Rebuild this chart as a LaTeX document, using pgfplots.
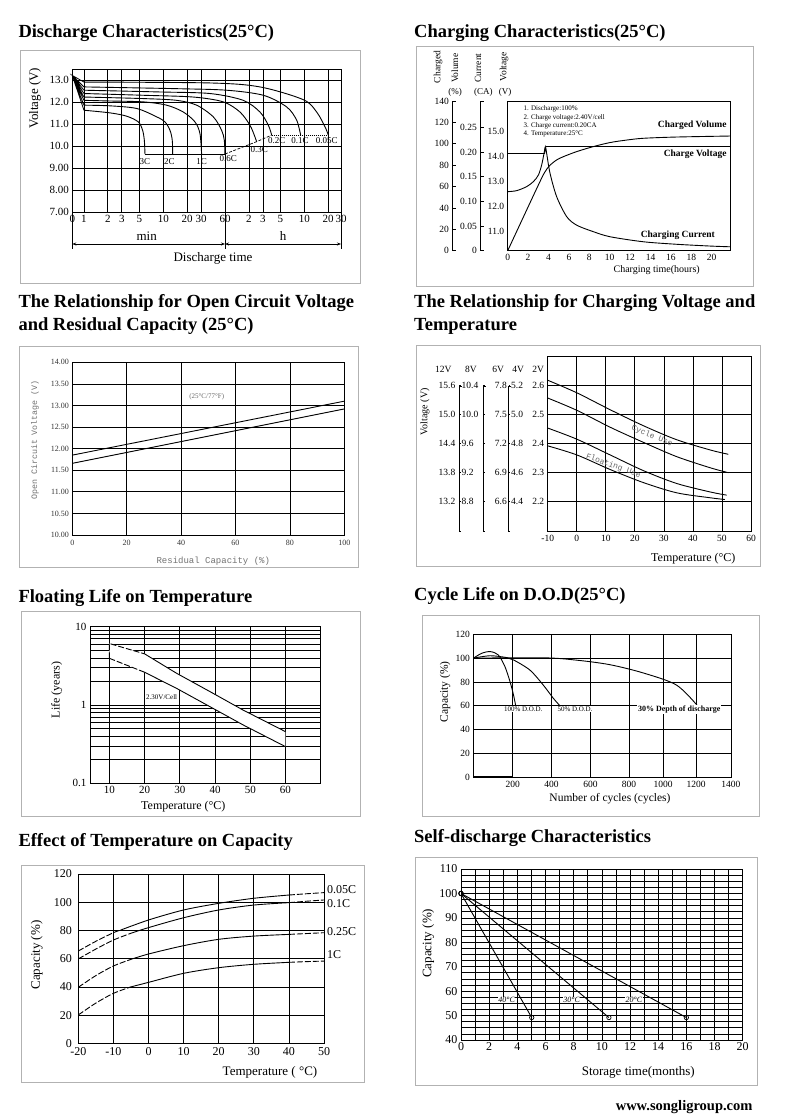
\documentclass[border=0pt]{standalone}
\usepackage{fontspec}
\setmainfont{Liberation Serif}
\newfontfamily\monof{Liberation Mono}
\usepackage{pgfplots}
\pgfplotsset{compat=1.18}
\usetikzlibrary{arrows.meta}
\newcommand{\fs}[1]{\fontsize{#1}{#1}\selectfont}
\pgfplotsset{
  base/.style={scale only axis, anchor=south west,
    axis line style={black,line width=0.9pt},
    major grid style={black,line width=0.7pt},
    minor grid style={black,line width=0.7pt},
    major tick length=0pt, minor tick length=0pt,
    /pgf/number format/assume math mode=true,
    every x tick label/.append style={text height=1.45ex, text depth=0.2ex},
    cycle list={{black,solid,line width=0.9pt,mark=none}},
    every axis plot/.append style={black,line width=0.9pt}},
  dsh/.style={dash pattern=on 6pt off 2pt},
}
\begin{document}
\begin{tikzpicture}
\path[use as bounding box, fill=white] (0,0) rectangle (800pt,-1120pt);
% ---------- frames
\begin{scope}[x=1pt,y=-1pt]
\draw[gray!60, line width=0.9pt] (20,50) rectangle (360,283);
\draw[gray!60, line width=0.9pt] (416,46) rectangle (753,286);
\draw[gray!60, line width=0.9pt] (19.3,346) rectangle (358,567);
\draw[gray!60, line width=0.9pt] (416,345) rectangle (760,566);
\draw[gray!60, line width=0.9pt] (21.7,611.7) rectangle (360.7,816);
\draw[gray!60, line width=0.9pt] (422.7,615) rectangle (759.3,816);
\draw[gray!60, line width=0.9pt] (21.7,865) rectangle (364,1082.7);
\draw[gray!60, line width=0.9pt] (415,857.7) rectangle (757.7,1085);
\end{scope}

% ================= Panel 1: Discharge
\begin{axis}[base, at={(72.3pt,-212.3pt)}, width=268.7pt, height=143pt,
  xmin=-0.147, xmax=3.24, ymin=7, ymax=13.5,
  xtick={-0.147,0,0.301,0.477,0.699,1,1.301,1.477,1.778,2.079,2.255,2.477,2.778,3.079,3.24},
  xticklabels={0,1,2,3,5,10,20,30,60,2,3,5,10,20,30},
  ytick={7,8,9,10,11,12,13}, yticklabels={7.00,8.00,9.00,10.0,11.0,12.0,13.0},
  tick label style={font=\fs{11}}, grid=major, clip=false]
\addplot[line width=0.8pt] coordinates {(-0.147,13.22)(0,11.64)(-0.147,13.22)(0,11.87)(-0.147,13.22)(0,12.09)(-0.147,13.22)(0,12.24)(-0.147,13.22)(0,12.40)(-0.147,13.22)(0,12.55)(-0.147,13.22)(0,12.70)(-0.147,13.22)(0,12.92)};
\addplot[smooth] coordinates {(0,11.64)(0.328,11.52)(0.538,11.37)(0.685,11.11)(0.739,10.73)(0.761,10.28)(0.769,9.65)};
\addplot[smooth] coordinates {(0,11.87)(0.328,11.84)(0.664,11.72)(0.916,11.34)(1.021,11.11)(1.084,10.73)(1.113,10.28)(1.118,9.65)};
\addplot[smooth] coordinates {(0,12.09)(0.328,12.06)(0.748,12.02)(1.042,11.87)(1.252,11.56)(1.399,11.11)(1.462,10.58)(1.483,9.65)};
\addplot[smooth] coordinates {(0,12.24)(0.748,12.17)(1.168,12.09)(1.420,11.87)(1.630,11.34)(1.735,10.73)(1.769,10.28)(1.777,9.65)};
\addplot[smooth] coordinates {(0,12.40)(0.748,12.32)(1.378,12.24)(1.756,12.02)(1.966,11.56)(2.092,10.96)(2.155,10.43)(2.176,10.21)};
\addplot[smooth] coordinates {(0,12.55)(0.958,12.47)(1.588,12.40)(2.008,12.09)(2.218,11.56)(2.324,10.96)(2.366,10.51)};
\addplot[smooth] coordinates {(0,12.70)(1.168,12.62)(1.798,12.55)(2.261,12.32)(2.555,11.79)(2.681,11.19)(2.731,10.51)};
\addplot[smooth] coordinates {(0,12.92)(1.588,12.88)(2.218,12.70)(2.765,12.12)(2.933,11.56)(3.038,10.89)(3.080,10.51)};
\addplot[black] coordinates {(0.769,9.65)(1.777,9.65)};
\addplot[line width=0.7pt, dash pattern=on 3pt off 1.5pt] coordinates {(1.777,9.65)(2.176,10.21)(2.366,10.51)};
\addplot[line width=0.7pt, dash pattern=on 1pt off 1pt] coordinates {(2.366,10.51)(3.080,10.51)};
\end{axis}

% ================= Panel 2: Charging
\begin{axis}[base, at={(507.7pt,-250.7pt)}, width=223pt, height=149.7pt,
  xmin=0, xmax=21.86, ymin=10.245, ymax=16.19,
  xtick={0,2,...,20}, ytick={11,12,13,14,15}, yticklabels={11.0,12.0,13.0,14.0,15.0},
  xticklabels={0,2,4,6,8,10,12,14,16,18,20},
  tick label style={font=\fs{9.5}}]
\addplot[smooth] coordinates {(0,12.59)(0.88,12.63)(1.86,12.79)(2.52,12.99)(3.01,13.25)(3.33,13.65)(3.56,14.11)(3.66,14.35)(3.72,14.38)};
\addplot[black] coordinates {(3.72,14.38)(21.86,14.38)};
\addplot[black] coordinates {(0,14.09)(3.6,14.09)};
\addplot[smooth] coordinates {(3.6,14.09)(3.68,14.25)(3.72,14.36)(3.82,14.11)(4.15,13.32)(4.8,12.39)(5.78,11.6)(6.76,11.26)(8.4,11.0)(10.03,10.8)(13.3,10.6)(16.57,10.5)(19.84,10.43)(21.86,10.4)};
\addplot[smooth] coordinates {(0,10.245)(1.5,11.55)(3.0,12.85)(3.6,13.34)(4.1,13.62)(4.8,13.85)(5.46,13.98)(6.76,14.18)(8.4,14.38)(10.03,14.54)(11.67,14.64)(13.3,14.71)(16.57,14.76)(21.86,14.80)};
\end{axis}

% ================= Panel 3: OCV
\begin{axis}[base, at={(72.3pt,-535pt)}, width=272pt, height=172.7pt,
  xmin=0, xmax=100, ymin=10, ymax=14,
  xtick={0,20,...,100}, xticklabels={0,20,40,60,80,100},
  ytick={10,10.5,...,14}, yticklabels={10.00,10.50,11.00,11.50,12.00,12.50,13.00,13.50,14.00},
  tick label style={font=\fs{8}, text=black!80}, grid=major]
\addplot[black] coordinates {(0,11.85)(100,13.10)};
\addplot[black] coordinates {(0,11.66)(100,12.92)};
\end{axis}

% ================= Panel 4: charging voltage vs temperature
\begin{axis}[base, at={(547.7pt,-531pt)}, width=203.3pt, height=175pt,
  xmin=-10, xmax=60, ymin=2.1, ymax=2.7,
  xtick={-10,0,...,60}, xticklabels={-10,0,10,20,30,40,50,60},
  ytick={2.1,2.2,...,2.7}, yticklabels={,2.2,2.3,2.4,2.5,2.6,},
  tick label style={font=\fs{9.5}}, grid=major]
\addplot[smooth] coordinates {(-10,2.617)(0,2.574)(11.47,2.516)(22.95,2.461)(34.4,2.413)(45.9,2.378)(52.2,2.363)};
\addplot[smooth] coordinates {(-10,2.556)(0,2.514)(11.47,2.456)(22.95,2.404)(34.4,2.355)(45.9,2.317)(52.2,2.300)};
\addplot[smooth] coordinates {(-10,2.453)(0,2.415)(11.47,2.361)(22.95,2.307)(34.4,2.263)(45.9,2.234)(51.6,2.223)};
\addplot[smooth] coordinates {(-10,2.392)(0,2.361)(11.47,2.311)(22.95,2.266)(34.4,2.231)(45.9,2.214)(51.0,2.208)};
\end{axis}

% ================= Panel 5: floating life
\begin{axis}[base, at={(90pt,-783.3pt)}, width=230.7pt, height=156.6pt,
  xmin=4.5, xmax=70, ymode=log, ymin=0.1, ymax=10,
  xtick={10,20,...,60}, xticklabels={10,20,30,40,50,60},
  ytick={0.1,1,10}, yticklabels={0.1,1,10},
  minor ytick={0.2,0.3,0.4,0.5,0.6,0.7,0.8,0.9,2,3,4,5,6,7,8,9},
  tick label style={font=\fs{11}}, grid=both]
\addplot[fill=white, draw=none] coordinates {(10,6.1)(20,4.5)(29.1,2.54)(38.6,1.48)(48,0.86)(60,0.457)(60,0.294)(48,0.556)(38.6,0.95)(29.1,1.63)(20,2.62)(10,3.95)};
\addplot[dsh] coordinates {(10,3.95)(10,6.1)(20,4.5)};
\addplot[black] coordinates {(20,4.5)(29.1,2.54)(38.6,1.48)(48,0.86)(60,0.457)};
\addplot[dsh] coordinates {(10,3.95)(20,2.62)};
\addplot[black] coordinates {(20,2.62)(29.1,1.63)(38.6,0.95)(48,0.556)(60,0.294)};
\end{axis}

% ================= Panel 6: cycle life
\begin{axis}[base, at={(473.3pt,-777.3pt)}, width=257.7pt, height=143pt,
  xmin=0, xmax=6.6, ymin=0, ymax=120,
  xtick={1.009,2,3,3.99,4.86,5.71,6.6}, xticklabels={200,400,600,800,1000,1200,1400},
  ytick={0,20,...,120}, yticklabels={0,20,40,60,80,100,120},
  tick label style={font=\fs{9.5}}, grid=major]
\addplot[line width=1.8pt] coordinates {(0,0)(1.009,0)};
\addplot[smooth] coordinates {(0,99.9)(0.21,104)(0.43,105.5)(0.64,102.7)(0.81,92.9)(0.94,80.3)(1.03,69.1)(1.09,59.3)};
\addplot[smooth] coordinates {(0,100)(0.43,102)(0.85,100.5)(1.03,98.5)(1.45,90)(1.79,77.5)(2.05,66.3)(2.24,59.3)};
\addplot[smooth] coordinates {(0,100)(1.8,100.3)(2.65,98.3)(3.5,94.5)(4.36,87.5)(5.2,77.5)(5.73,60.5)};
\end{axis}

% ================= Panel 7: temperature vs capacity
\begin{axis}[base, at={(78.3pt,-1043.3pt)}, width=245.7pt, height=169.3pt,
  xmin=-20, xmax=50, ymin=0, ymax=120,
  xtick={-20,-10,...,50}, xticklabels={-20,-10,0,10,20,30,40,50},
  ytick={0,20,...,120}, yticklabels={0,20,40,60,80,100,120},
  tick label style={font=\fs{12}},
  xticklabel style={yshift=-1.5pt}, yticklabel style={xshift=-3pt},
  grid=major]
\addplot[smooth,dsh] coordinates {(-20,65.4)(-15,72.3)(-10,78.4)(-8,80.2)};
\addplot[smooth] coordinates {(-8,80.2)(0,87.4)(10,94.5)(20,99.2)(30,102.8)(40,105.1)};
\addplot[smooth,dsh] coordinates {(40,105.1)(45,106)(50,106.8)};
\addplot[smooth,dsh] coordinates {(-20,59.8)(-15,66.8)(-10,73.2)(-5,78)};
\addplot[smooth] coordinates {(-5,78)(0,82)(10,89)(20,94.5)(30,98)(40,99.7)};
\addplot[smooth,dsh] coordinates {(40,99.7)(45,100.7)(50,101.6)};
\addplot[smooth,dsh] coordinates {(-20,39.7)(-15,48)(-10,54.8)(-5,59.5)};
\addplot[smooth] coordinates {(-5,59.5)(0,63.3)(10,69.2)(20,73.7)(30,76)(40,77.2)};
\addplot[smooth,dsh] coordinates {(40,77.2)(45,77.8)(50,78.4)};
\addplot[smooth,dsh] coordinates {(-20,20.1)(-15,28.5)(-10,35.4)(-5,40)};
\addplot[smooth] coordinates {(-5,40)(0,43.2)(10,49.6)(20,53.6)(30,56)(40,57.4)};
\addplot[smooth,dsh] coordinates {(40,57.4)(45,57.9)(50,58.3)};
\end{axis}

% ================= Panel 8: self discharge
\begin{axis}[base, at={(461pt,-1040pt)}, width=281.7pt, height=171pt,
  xmin=0, xmax=20, ymin=40, ymax=110,
  xtick={0,2,...,20}, xticklabels={0,2,4,6,8,10,12,14,16,18,20},
  ytick={40,50,...,110}, yticklabels={40,50,60,70,80,90,100,110},
  minor x tick num=1, minor y tick num=3,
  tick label style={font=\fs{12}},
  grid=both]
\addplot[mark=o, mark size=2.2pt, mark options={solid,line width=0.7pt}] coordinates {(0,100)(5.02,49.2)};
\addplot[mark=o, mark size=2.2pt, mark options={solid,line width=0.7pt}] coordinates {(0,100)(10.5,49.2)};
\addplot[mark=o, mark size=2.2pt, mark options={solid,line width=0.7pt}] coordinates {(0,100)(16.0,49.2)};
\end{axis}

% ---------- texts and decorations
\begin{scope}[x=1pt,y=-1pt]
% titles
\tikzset{ttl/.style={anchor=base west, font=\fs{18.5}\bfseries, inner sep=0pt}}
\node[ttl] at (18.3,37.7) {Discharge Characteristics(25°C)};
\node[ttl] at (414,37.7) {Charging Characteristics(25°C)};
\node[ttl] at (18.3,307.7) {The Relationship for Open Circuit Voltage};
\node[ttl] at (18.3,330) {and Residual Capacity (25°C)};
\node[ttl] at (414,307.7) {The Relationship for Charging Voltage and};
\node[ttl] at (414,330) {Temperature};
\node[ttl] at (18.3,602) {Floating Life on Temperature};
\node[ttl] at (414,600) {Cycle Life on D.O.D(25°C)};
\node[ttl] at (18.3,846) {Effect of Temperature on Capacity};
\node[ttl] at (414,842) {Self-discharge Characteristics};
\node[anchor=base east, font=\fs{14.5}\bfseries, inner sep=0pt] at (752.7,1110) {www.songligroup.com};

% panel 1
\node[rotate=90, font=\fs{13}] at (35,98.3) {Voltage (V)};
\draw[line width=0.7pt] (72.3,212.3)--(72.3,249) (225,212.3)--(225,249) (341,212.3)--(341,249);
\draw[{Stealth[length=4pt,width=3pt]}-{Stealth[length=4pt,width=3pt]}, line width=0.7pt] (72.3,244)--(225,244);
\draw[{Stealth[length=4pt,width=3pt]}-{Stealth[length=4pt,width=3pt]}, line width=0.7pt] (225,244)--(341,244);
\node[font=\fs{13}] at (146.7,236) {min};
\node[font=\fs{13}] at (283,236) {h};
\node[font=\fs{13}] at (213,258) {Discharge time};
\tikzset{cl/.style={font=\fs{9}, inner sep=0.5pt}}
\node[cl] at (145,161.7) {3C};
\node[cl] at (169.3,161.7) {2C};
\node[cl] at (201.7,161.7) {1C};
\node[cl] at (228.3,158.3) {0.6C};
\node[cl] at (259.3,150) {0.3C};
\node[cl] at (276.7,140.7) {0.2C};
\node[cl] at (300,140.7) {0.1C};
\node[cl] at (326.7,140.7) {0.05C};

% panel 2
\draw[line width=0.9pt] (452.7,101)--(452.7,250.7);
\foreach \v [count=\k from 0] in {0,20,40,60,80,100,120,140}{
  \draw[line width=0.8pt] (452.7,250.7-\k*21.386)--(455.7,250.7-\k*21.386);
  \node[anchor=east, font=\fs{9.5}, inner sep=1pt] at (450,250.7-\k*21.386) {\v};
}
\draw[line width=0.9pt] (480.7,101)--(480.7,250.7);
\foreach \v [count=\k from 0] in {0,0.05,0.10,0.15,0.20,0.25}{
  \draw[line width=0.8pt] (480.7,250.7-\k*24.67)--(483.7,250.7-\k*24.67);
  \node[anchor=east, font=\fs{9.5}, inner sep=1pt] at (478,250.7-\k*24.67) {\v};
}
\draw[line width=0.8pt] (480.7,101)--(483.7,101) (452.7,101)--(455.7,101);
\node[rotate=90, font=\fs{9.5}] at (438,67) {Charged};
\node[rotate=90, font=\fs{9.5}] at (455,68.3) {Volume};
\node[rotate=90, font=\fs{9.5}] at (478,68) {Current};
\node[rotate=90, font=\fs{9.5}] at (504,66.7) {Voltage};
\node[font=\fs{9}] at (455,92.7) {(\%)};
\node[font=\fs{9}] at (483.3,92.7) {(CA)};
\node[font=\fs{9}] at (505,92.7) {(V)};
\tikzset{nt/.style={anchor=west, font=\fs{7}, inner sep=0pt}}
\node[nt] at (523.3,109.3) {1. Discharge:100\%};
\node[nt] at (523.3,117.7) {2. Charge voltage:2.40V/cell};
\node[nt] at (523.3,126) {3. Charge current:0.20CA};
\node[nt] at (523.3,134.3) {4. Temperature:25°C};
\node[anchor=east, font=\fs{9.5}\bfseries, inner sep=0pt] at (726.7,125) {Charged Volume};
\node[anchor=east, font=\fs{9.5}\bfseries, inner sep=0pt] at (726.7,154) {Charge Voltage};
\node[anchor=east, font=\fs{9.5}\bfseries, inner sep=0pt] at (715,235) {Charging Current};
\node[font=\fs{10}] at (656.7,270) {Charging time(hours)};

% panel 3
\node[rotate=90, font=\fs{8.3}\monof, text=black!55] at (35,440) {Open Circuit Voltage (V)};
\node[font=\fs{9}\monof, text=black!55] at (213.3,560.7) {Residual Capacity (\%)};
\node[font=\fs{7}, text=black!60] at (206.7,396.7) {(25°C/77°F)};

% panel 4
\node[rotate=90, font=\fs{10}] at (425,411.7) {Voltage (V)};
\foreach \lab/\xx in {12V/443.3, 8V/471, 6V/498.3, 4V/518.3, 2V/538.3}{
  \node[font=\fs{9.5}] at (\xx,369.3) {\lab};
}
\foreach \a/\b/\c/\d [count=\k from 0] in {15.6/10.4/7.8/5.2, 15.0/10.0/7.5/5.0, 14.4/9.6/7.2/4.8, 13.8/9.2/6.9/4.6, 13.2/8.8/6.6/4.4}{
  \node[anchor=east, font=\fs{9.5}, inner sep=0pt] at (455.5,385.7+\k*29) {\a};
  \node[anchor=west, font=\fs{9.5}, inner sep=0pt] at (461.5,385.7+\k*29) {\b};
  \node[anchor=east, font=\fs{9.5}, inner sep=0pt] at (507,385.7+\k*29) {\c};
  \node[anchor=west, font=\fs{9.5}, inner sep=0pt] at (511,385.7+\k*29) {\d};
  \draw[line width=0.7pt] (459,385.7+\k*29)--(461,385.7+\k*29) (483.3,385.7+\k*29)--(485.3,385.7+\k*29) (508.7,385.7+\k*29)--(510.2,385.7+\k*29);
}
\foreach \xx in {459,483.3,508.7}{
  \draw[line width=0.8pt] (\xx+2.5,386.7)--(\xx,386.7)--(\xx,531)--(\xx+1.5,531);
}
\node[font=\fs{8}\monof, text=black!60, rotate=-22, inner sep=0pt] at (652,436) {Cycle Use};
\node[font=\fs{8}\monof, text=black!60, rotate=-20, inner sep=0pt] at (613.3,466) {Floating Use};
\node[font=\fs{12}] at (693.3,558.3) {Temperature (°C)};

% panel 5
\node[rotate=90, font=\fs{12}] at (56.7,690) {Life (years)};
\node[font=\fs{12}] at (183.3,806.7) {Temperature (°C)};
\node[font=\fs{7}, inner sep=0.5pt] at (161.7,697.3) {2.30V/Cell};

% panel 6
\node[rotate=90, font=\fs{11.5}] at (445,691.7) {Capacity (\%)};
\node[font=\fs{11.5}] at (610,798.3) {Number of cycles (cycles)};
\node[font=\fs{7}, fill=white, inner sep=0.8pt] at (523.3,709.3) {100\% D.O.D.};
\node[font=\fs{7}, fill=white, inner sep=0.8pt] at (575,709.3) {50\% D.O.D.};
\node[font=\fs{8}\bfseries, fill=white, inner sep=0.8pt] at (679.3,709.3) {30\% Depth of discharge};

% panel 7
\node[rotate=90, font=\fs{13}] at (36.7,955) {Capacity (\%)};
\node[font=\fs{13}] at (270,1072.7) {Temperature ( °C)};
\node[anchor=west, font=\fs{12}, inner sep=0pt] at (327,890) {0.05C};
\node[anchor=west, font=\fs{12}, inner sep=0pt] at (327,903.3) {0.1C};
\node[anchor=west, font=\fs{12}, inner sep=0pt] at (327,931.7) {0.25C};
\node[anchor=west, font=\fs{12}, inner sep=0pt] at (327,955) {1C};

% panel 8
\node[rotate=90, font=\fs{13}] at (428.3,943.3) {Capacity (\%)};
\node[font=\fs{13}] at (638.3,1072.3) {Storage time(months)};
\node[font=\fs{8}\itshape, fill=white, inner sep=0.5pt] at (506.7,1000) {40°C};
\node[font=\fs{8}\itshape, fill=white, inner sep=0.5pt] at (571.7,1000) {30°C};
\node[font=\fs{8}\itshape, fill=white, inner sep=0.5pt] at (634,1000) {20°C};
\end{scope}
\end{tikzpicture}
\end{document}
